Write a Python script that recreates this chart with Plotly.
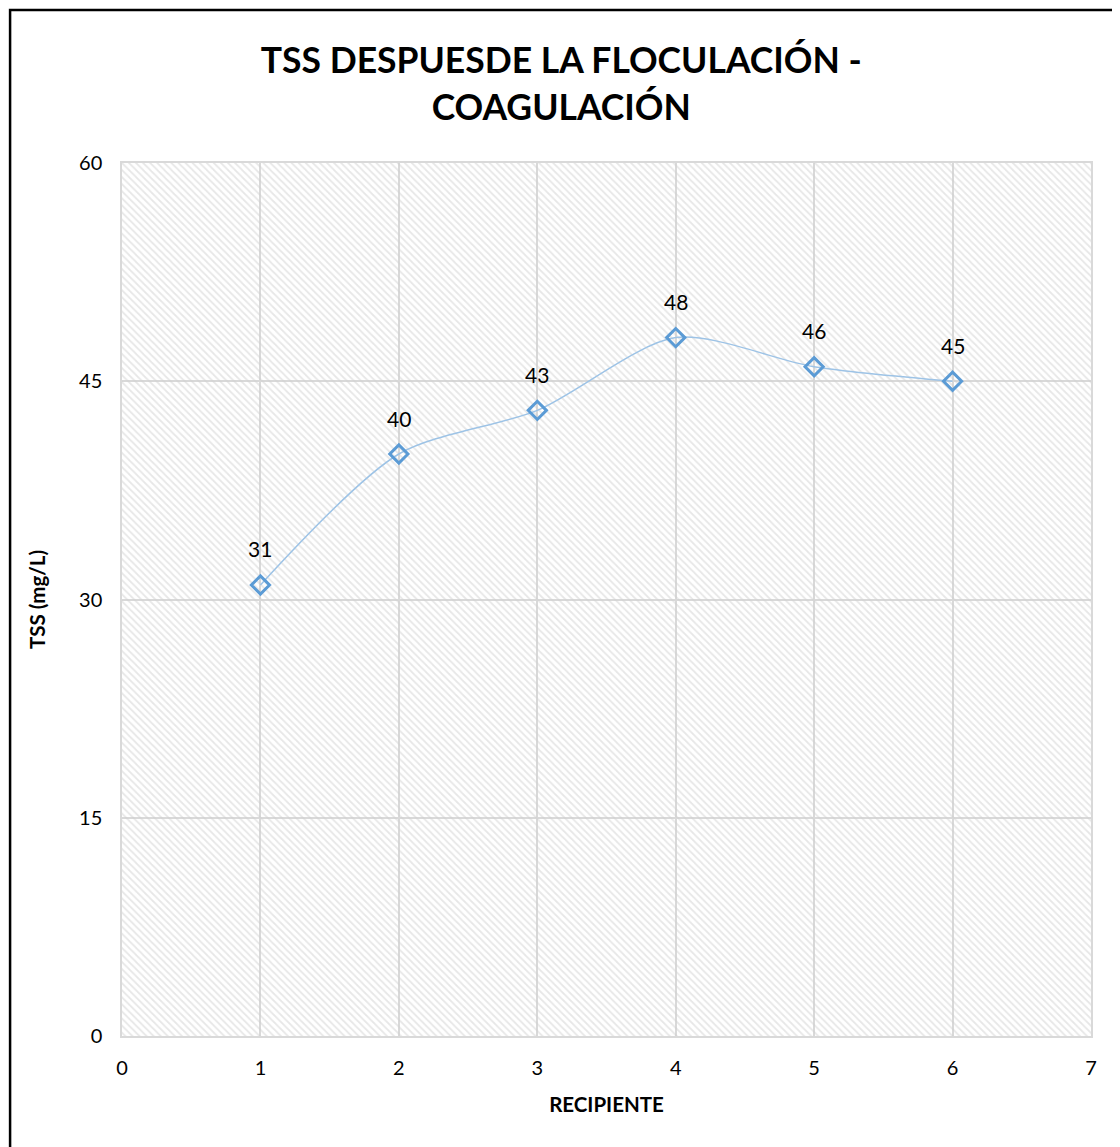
import plotly.graph_objects as go

recipiente = [1, 2, 3, 4, 5, 6]
tss = [31, 40, 43, 48, 46, 45]
x_range = [0, 7]
y_range = [0, 60]
y_ticks = [0, 15, 30, 45, 60]
x_ticks = [0, 1, 2, 3, 4, 5, 6, 7]

FONT = "Lato, 'Open Sans', sans-serif"

fig = go.Figure()

# hatched plot-area background
fig.add_trace(go.Scatter(
    x=[x_range[0], x_range[1], x_range[1], x_range[0], x_range[0]],
    y=[y_range[0], y_range[0], y_range[1], y_range[1], y_range[0]],
    mode="lines", fill="toself", line=dict(width=0),
    fillcolor="rgba(0,0,0,0)",
    fillpattern=dict(shape="\\", fgcolor="#d0d0d0", bgcolor="rgba(255,255,255,0)",
                     size=5, solidity=0.35),
    hoverinfo="skip", showlegend=False,
))

fig.add_trace(go.Scatter(
    x=recipiente, y=tss, mode="lines+markers",
    line=dict(shape="spline", smoothing=0.8, color="#9dc3e6", width=1.5),
    marker=dict(symbol="diamond-open", size=14, color="#5b9bd5",
                line=dict(width=3, color="#5b9bd5")),
    showlegend=False,
))

for xv, yv in zip(recipiente, tss):
    fig.add_annotation(x=xv, y=yv, text=str(yv), showarrow=False, yshift=36,
                       font=dict(family=FONT, size=21, color="#000000"))

fig.update_layout(
    width=1120, height=1147,
    margin=dict(l=114, r=37, t=155, b=119),
    paper_bgcolor="white", plot_bgcolor="white",
    title=dict(text="<b>TSS DESPUESDE LA FLOCULACIÓN -<br>COAGULACIÓN</b>",
               x=0.494, xref="container", xanchor="center",
               y=0.943, yref="container", yanchor="middle",
               font=dict(family=FONT, size=35.5, color="#000000")),
    xaxis=dict(range=x_range, tickvals=x_ticks, showgrid=True, gridcolor="#d9d9d9",
               gridwidth=1.5, zeroline=False, showline=True, linecolor="#d9d9d9",
               linewidth=1.5, mirror=True, ticks="", ticklabelstandoff=13,
               tickfont=dict(family=FONT, size=20, color="#000000"),
               title=dict(text="<b>RECIPIENTE</b>", standoff=20,
                          font=dict(family=FONT, size=20.5, color="#000000"))),
    yaxis=dict(range=y_range, tickvals=y_ticks, showgrid=True, gridcolor="#d9d9d9",
               gridwidth=1.5, zeroline=False, showline=True, linecolor="#d9d9d9",
               linewidth=1.5, mirror=True, ticks="", ticklabelstandoff=14,
               tickfont=dict(family=FONT, size=20, color="#000000"),
               title=dict(text="<b>TSS (mg/L)</b>", standoff=28,
                          font=dict(family=FONT, size=20.5, color="#000000"))),
    shapes=[dict(type="rect", xref="paper", yref="paper",
                 x0=-0.1155, x1=1.2, y0=-0.2, y1=1.1752,
                 line=dict(color="black", width=2.5), fillcolor="rgba(0,0,0,0)",
                 layer="above")],
)

fig.write_html("out.html")
